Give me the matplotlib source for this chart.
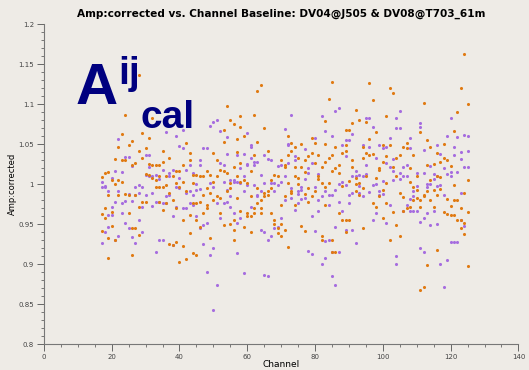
import matplotlib

matplotlib.use("Agg")
import matplotlib.pyplot as plt
import numpy as np
from matplotlib.ticker import MultipleLocator

# channel numbers plotted (one column of points per channel)
channels = list(range(17, 126))

# amplitude samples per channel, correlation 1 (orange)
amp_corr1 = [
    [1.009, 0.963, 0.942], [1.014, 0.970, 0.958], [1.015, 0.987, 0.933, 0.908],
    [1.005, 0.965, 0.948], [1.032, 1.000, 0.930], [1.047, 1.005, 0.987],
    [1.063, 1.030, 1.003], [1.087, 1.030, 0.988], [1.049, 0.987, 0.964],
    [1.054, 1.024, 0.946, 0.912], [1.149, 1.026, 0.986, 0.946],
    [1.137, 1.041, 0.972, 0.937], [1.064, 1.033, 0.978], [1.045, 1.013, 0.978],
    [1.058, 1.025, 1.012], [1.083, 1.024, 1.008], [1.024, 0.997, 1.005],
    [1.024, 1.010, 0.997, 0.978], [1.041, 1.028, 0.997, 0.968],
    [1.010, 0.999, 0.976], [1.033, 0.989, 0.926], [1.010, 0.980, 0.924],
    [1.016, 1.001, 0.970, 0.928], [1.016, 0.997, 0.903],
    [1.024, 1.003, 0.956, 0.923], [1.052, 0.991, 0.907],
    [1.039, 1.030, 0.962, 0.939], [1.012, 1.001, 0.976, 0.914],
    [1.012, 0.976, 0.955, 0.912], [1.010, 0.978, 0.947],
    [1.010, 0.987, 0.964], [1.016, 0.995, 0.974, 0.970],
    [1.012, 0.989, 0.933], [1.039, 1.003, 0.980], [1.030, 1.010, 0.985],
    [1.018, 0.983, 0.964], [1.068, 1.053, 1.016, 0.949],
    [1.098, 1.014, 0.992], [1.080, 1.001, 0.995, 0.951],
    [1.075, 1.022, 0.955, 0.943, 0.931], [1.056, 1.040, 1.010, 0.983],
    [1.085, 1.071, 1.026, 1.003, 0.966], [1.060, 1.005, 0.947],
    [0.964, 0.960, 1.002], [1.016, 0.985, 0.960, 0.940],
    [1.087, 1.037, 0.970, 0.964], [1.116, 1.053, 0.995, 0.976],
    [1.124, 0.980, 0.970, 0.964], [1.070, 0.985, 0.989],
    [1.041, 0.987, 0.991], [1.005, 0.995, 0.964], [1.012, 0.955, 0.951],
    [1.010, 0.945, 0.939], [1.030, 0.974, 0.951, 0.935],
    [1.024, 1.021, 0.985, 0.943], [1.060, 1.037, 1.002, 0.922],
    [1.052, 1.042, 0.991, 0.989], [1.047, 1.021, 1.010, 0.974],
    [1.033, 1.008, 1.000], [1.050, 1.021, 0.948],
    [1.030, 1.015, 0.988, 0.942], [1.035, 0.978, 0.995],
    [1.058, 1.039, 0.985], [1.051, 1.027, 0.991], [1.037, 1.010, 1.006],
    [1.022, 1.001, 0.935, 0.930], [1.079, 1.050, 1.028, 0.996, 0.974],
    [1.106, 1.033, 1.001], [1.128, 1.037, 1.016, 0.931, 0.916],
    [1.047, 1.020, 0.916], [1.024, 1.014, 0.964], [1.039, 0.955, 0.998],
    [1.068, 1.049, 1.041, 0.955, 0.940], [1.068, 0.956, 1.004],
    [1.076, 1.030, 1.022], [1.093, 1.008, 1.000, 0.991],
    [1.080, 1.001, 0.987], [1.047, 1.033, 0.995, 0.945],
    [1.078, 1.039, 1.010], [1.127, 1.056, 1.037], [1.105, 1.038, 0.977],
    [1.065, 1.008, 0.972], [1.020, 1.018, 0.985],
    [1.049, 1.028, 0.993, 0.958], [1.085, 1.035, 1.002, 0.976],
    [1.120, 1.049, 0.930], [1.114, 1.022, 0.965], [1.033, 1.010, 0.949],
    [1.037, 0.989, 0.935], [1.047, 0.984, 0.966],
    [1.051, 1.045, 0.970], [1.020, 1.003, 0.972], [1.037, 0.997, 0.980],
    [1.010, 0.993, 0.983], [1.065, 0.980, 0.972, 0.868],
    [1.101, 0.987, 0.985, 0.872], [1.055, 1.024, 0.991, 0.899],
    [1.047, 1.005, 0.980], [1.025, 0.993, 0.972],
    [1.039, 1.010, 0.987, 0.918], [1.028, 1.009, 0.994],
    [1.033, 1.050, 0.965], [1.030, 0.981, 0.963], [1.023, 0.973, 0.962],
    [1.066, 0.999, 0.980, 0.962], [1.090, 0.980, 0.956],
    [1.120, 0.970, 0.955, 0.946], [1.162, 0.989, 0.952, 0.938],
    [1.100, 1.005, 0.965, 0.898],
]

# amplitude samples per channel, correlation 2 (purple)
amp_corr2 = [
    [1.003, 0.997, 0.927], [0.998, 0.996, 0.941], [0.991, 0.962, 0.947],
    [1.008, 0.972, 0.962], [1.016, 0.978, 0.930], [1.057, 0.991, 0.935],
    [1.015, 0.976, 0.964], [1.034, 0.979, 0.952], [1.034, 0.988, 0.945],
    [1.023, 0.979, 0.934], [0.997, 0.987, 0.927], [0.999, 0.989, 0.955],
    [0.997, 0.972, 0.941], [1.037, 1.011, 0.987], [1.037, 1.021, 1.010],
    [1.010, 0.989, 0.973], [1.012, 0.978, 0.915],
    [1.006, 0.978, 0.930], [1.018, 0.976, 0.930], [1.065, 0.985, 0.976],
    [1.014, 1.010, 0.987], [1.018, 0.960, 0.924], [1.060, 0.997, 0.972],
    [1.048, 1.008, 0.995], [1.068, 1.045, 0.970], [1.018, 0.989, 0.970],
    [1.024, 0.991, 0.977], [1.014, 0.987, 0.974], [1.000, 0.993, 0.960],
    [1.030, 1.024, 0.994, 0.945], [1.045, 0.949, 0.926],
    [1.045, 0.952, 0.891], [1.073, 1.001, 0.912],
    [1.078, 0.997, 0.920, 0.843], [1.080, 0.976, 0.874],
    [1.066, 1.026, 0.958], [1.024, 1.003, 0.976],
    [1.059, 1.038, 0.993, 0.978], [1.005, 0.972, 0.985],
    [1.005, 1.003, 0.964], [1.037, 1.003, 0.952, 0.914],
    [1.020, 1.001, 0.958], [1.038, 1.010, 0.991, 0.889],
    [1.064, 1.025, 1.024, 0.999], [1.049, 1.047, 1.033, 0.972],
    [1.028, 1.024, 0.999], [1.028, 0.987, 0.985], [1.012, 0.991, 0.943],
    [1.037, 1.001, 0.941, 0.887], [1.032, 0.930, 0.885],
    [1.030, 1.001, 0.935], [1.001, 0.991, 0.945], [1.023, 0.999, 0.947],
    [1.024, 1.003, 0.958], [1.069, 1.010, 0.980], [1.050, 1.049, 1.027],
    [1.086, 0.983, 0.995], [1.035, 1.030, 0.968], [0.991, 0.988, 0.976],
    [0.997, 0.993, 0.981], [1.044, 1.006, 0.983], [1.020, 1.014, 0.917],
    [1.026, 0.960, 0.913], [1.058, 0.997, 0.942], [1.013, 0.980, 0.966],
    [1.085, 0.985, 0.900], [1.067, 0.991, 0.929, 0.908],
    [0.987, 0.974, 0.930], [1.060, 0.987, 0.916, 0.885],
    [1.091, 0.993, 0.947, 0.874], [1.095, 1.000, 0.978, 0.916],
    [1.049, 1.003, 0.966], [1.055, 1.035, 0.999, 0.943],
    [1.055, 0.987, 0.976], [1.063, 1.010, 0.989, 0.943],
    [1.016, 1.010, 0.927], [1.012, 0.989, 0.998], [1.049, 1.010, 0.985],
    [1.083, 1.024, 1.013], [1.083, 1.047, 0.990], [1.071, 0.999, 0.955],
    [1.033, 0.964, 1.000], [1.049, 0.992, 0.987], [1.045, 0.988, 1.004],
    [1.047, 1.027, 0.952], [1.058, 1.022, 0.974], [1.032, 1.016, 1.005],
    [1.083, 1.070, 0.910, 0.900], [1.092, 1.070, 1.014, 1.006],
    [1.022, 1.010, 0.966], [1.024, 1.010, 0.974],
    [1.058, 1.045, 0.981, 0.967], [0.992, 0.985, 0.966],
    [1.014, 0.998, 0.966], [1.077, 1.071, 0.953, 0.920],
    [1.043, 1.014, 0.958, 0.916], [1.000, 0.997, 0.964],
    [1.023, 1.000, 0.949], [1.013, 1.006, 0.966],
    [1.049, 1.010, 0.998, 0.951], [1.038, 0.999, 0.901],
    [0.987, 1.020, 0.872], [1.060, 1.013, 0.905],
    [1.083, 1.015, 1.010, 0.928], [1.047, 1.037, 0.928],
    [1.059, 1.015, 0.928], [1.040, 1.031, 0.989, 0.955],
    [1.062, 1.022, 0.948], [1.060, 1.041, 1.022],
]

BG = "#eeebe6"
ORANGE = "#e07a12"
PURPLE = "#a66ddf"


def flatten(chans, rows):
    x = np.concatenate([np.full(len(r), c) for c, r in zip(chans, rows)])
    y = np.concatenate([np.asarray(r, dtype=float) for r in rows])
    return x, y


fig = plt.figure(figsize=(5.29, 3.70), dpi=100, facecolor=BG)
ax = fig.add_axes([0.083, 0.069, 0.897, 0.866], facecolor=BG)

x1, y1 = flatten(channels, amp_corr1)
x2, y2 = flatten(channels, amp_corr2)
ax.scatter(x2, y2, s=5, color=PURPLE, linewidths=0, zorder=3)
ax.scatter(x1, y1, s=5, color=ORANGE, linewidths=0, zorder=3)

ax.set_xlim(0, 140)
ax.set_ylim(0.8, 1.2)
ax.xaxis.set_major_locator(MultipleLocator(20))
ax.xaxis.set_minor_locator(MultipleLocator(5))
ax.yaxis.set_major_locator(MultipleLocator(0.05))
ax.yaxis.set_minor_locator(MultipleLocator(0.01))
ax.yaxis.set_major_formatter(lambda v, p: f"{v:g}")

for side in ("top", "right"):
    ax.spines[side].set_visible(False)
for side in ("left", "bottom"):
    ax.spines[side].set_color("#777777")
    ax.spines[side].set_linewidth(0.8)

ax.tick_params(which="major", length=5, width=0.7, color="#666666",
               labelsize=5, labelcolor="#444444", pad=2)
ax.tick_params(which="minor", length=2.5, width=0.6, color="#666666")

ax.set_xlabel("Channel", fontsize=6.5, labelpad=0)
ax.set_ylabel("Amp:corrected", fontsize=6, labelpad=1)
ax.set_title("Amp:corrected vs. Channel Baseline: DV04@J505 & DV08@T703_61m",
             fontsize=7.6, fontweight="bold", pad=5)

# calibrated-visibility label in the upper left
navy = "#00007f"
fig.text(0.143, 0.72, "A", fontsize=42, fontweight="bold", color=navy,
         family="Liberation Sans", va="baseline")
fig.text(0.224, 0.773, "ij", fontsize=28, fontweight="bold", color=navy,
         family="Liberation Sans", va="baseline")
fig.text(0.266, 0.655, "cal", fontsize=28, fontweight="bold", color=navy,
         family="Liberation Sans", va="baseline")

fig.savefig("out.png", dpi=100, facecolor=BG)
